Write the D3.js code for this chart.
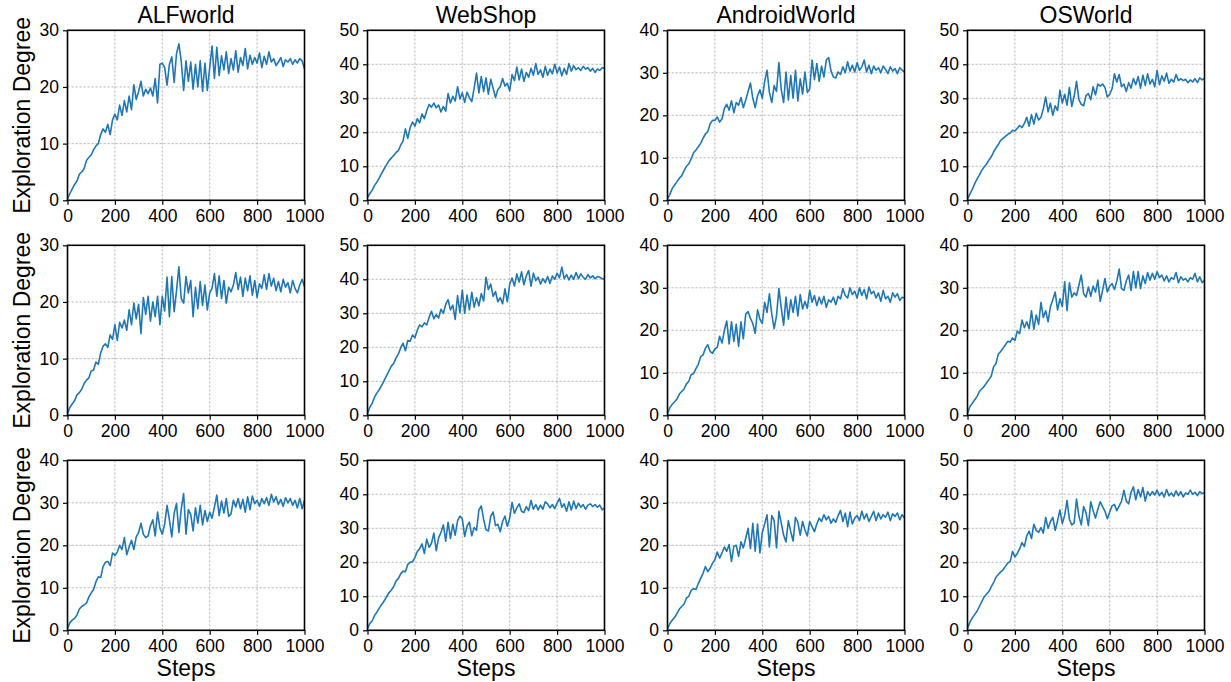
<!DOCTYPE html>
<html>
<head>
<meta charset="utf-8">
<script src="https://cdn.jsdelivr.net/npm/d3@7"></script>
<style>
  body { margin: 0; background: #fff; }
  text { font-family: "Liberation Sans", Arial, sans-serif; fill: #000; }
</style>
</head>
<body>
<div id="chart"></div>
<script>
// environments (columns) and axis settings per row
var envNames = ["ALFworld", "WebShop", "AndroidWorld", "OSWorld"];
var xTicks = [0, 200, 400, 600, 800, 1000];
var yMax = [[30, 50, 40, 50], [30, 50, 40, 40], [40, 50, 40, 50]];
var steps = d3.range(0, 1001, 10);

// row 1
var alf1 = [0.3,1.2,2.0,2.8,3.4,4.6,5.0,5.6,7.0,7.6,
  8.0,8.9,9.6,10.0,11.6,12.6,12.0,13.4,11.6,14.2,
  15.2,14.2,16.8,15.0,17.6,15.6,18.4,16.0,20.4,17.8,
  19.2,21.0,18.4,19.6,18.8,19.8,18.4,21.5,17.2,24.0,
  24.2,23.4,20.3,24.0,25.3,20.8,25.9,27.6,24.5,19.4,
  24.6,21.0,24.4,19.6,24.0,20.0,24.6,19.2,24.2,19.4,
  23.4,27.2,21.5,27.0,22.0,25.5,23.0,26.2,22.4,25.0,
  23.0,26.4,22.6,25.2,23.8,26.8,23.2,25.6,24.0,25.2,
  24.2,26.0,23.4,25.4,24.0,26.2,24.4,25.0,23.8,24.4,
  25.2,23.6,24.8,24.4,25.0,24.0,24.8,24.2,25.0,24.6,
  23.2];
var web1 = [0.8,2.0,3.0,4.4,5.4,6.6,8.0,9.2,10.4,11.6,
  12.4,13.2,14.0,14.6,16.2,17.4,21.0,18.2,21.4,23.0,
  21.8,24.0,22.8,25.4,24.0,26.4,28.2,27.4,28.6,27.2,
  28.0,26.0,27.6,26.2,31.4,28.6,30.6,29.2,33.4,29.8,
  31.6,28.8,31.8,30.2,29.0,33.0,37.4,31.6,36.4,32.0,
  36.0,31.2,35.6,33.0,30.2,32.6,33.4,35.8,33.6,34.4,
  32.2,37.0,35.2,39.2,35.4,38.6,35.0,37.6,36.2,38.8,
  36.8,40.2,37.0,38.4,36.2,39.4,36.8,38.6,37.2,40.0,
  37.4,39.2,36.6,38.8,37.0,40.2,38.0,39.6,38.4,39.0,
  38.2,39.4,38.6,39.0,38.0,38.8,37.6,38.6,38.2,39.0,
  38.8];
var and1 = [0.4,1.4,2.8,3.6,4.4,5.2,5.8,7.0,8.0,8.6,
  9.8,11.2,11.8,12.6,13.4,14.6,15.6,16.2,18.0,18.8,
  18.8,19.6,18.4,19.2,21.6,22.6,21.2,23.4,20.6,23.0,
  22.4,24.2,21.8,23.6,25.6,27.6,24.0,21.8,24.6,26.0,
  24.0,28.0,30.6,25.4,23.0,27.0,25.6,32.4,26.0,23.0,
  30.2,23.6,29.4,24.0,30.6,23.4,28.6,25.0,30.2,25.4,
  26.2,33.0,28.4,32.2,28.0,31.6,29.0,33.0,33.6,30.4,
  29.0,28.8,30.2,29.6,31.4,30.0,32.6,30.4,31.8,30.2,
  32.4,30.6,31.4,33.0,30.2,31.8,29.8,31.6,30.6,31.2,
  30.0,31.6,30.8,29.8,31.4,30.4,31.0,29.8,31.2,30.6,
  30.2];
var os1 = [0.4,1.8,3.2,4.8,6.2,7.4,8.8,9.8,10.6,11.8,
  12.8,14.2,15.4,16.4,17.6,18.2,18.8,19.4,19.8,20.6,
  20.4,21.2,22.0,21.4,22.6,24.4,21.8,25.2,22.4,25.6,
  23.6,24.4,27.0,30.4,26.0,28.6,25.0,27.8,26.4,32.4,
  28.6,31.2,28.0,33.2,27.6,30.6,35.0,29.6,28.2,27.8,
  30.8,31.4,29.6,33.4,31.0,34.2,33.6,34.2,33.2,30.4,
  31.2,32.8,37.2,34.8,37.0,33.4,34.2,32.0,34.6,33.0,
  35.8,34.0,36.4,33.0,36.8,33.8,37.2,34.2,35.6,33.4,
  38.2,34.0,36.6,35.0,37.4,34.4,35.6,34.8,37.0,35.2,
  35.8,35.2,35.6,34.6,35.4,34.8,35.8,34.6,36.0,35.4,
  35.9];

// row 2
var alf2 = [0.3,1.4,2.0,2.6,3.6,4.0,4.6,5.6,6.2,6.6,
  7.8,8.0,9.4,9.0,11.0,12.2,12.6,12.0,14.2,13.4,
  16.0,13.2,16.4,15.4,16.8,15.0,18.6,16.0,19.8,17.0,
  19.6,14.4,20.8,17.8,21.0,16.6,20.0,17.4,21.0,16.0,
  21.0,18.4,24.4,17.4,24.5,18.3,22.0,26.2,20.6,19.8,
  24.5,21.6,23.8,17.4,22.6,18.8,23.6,19.4,23.0,18.6,
  21.6,22.4,25.0,21.0,24.6,20.6,23.8,19.8,22.6,21.8,
  23.0,25.2,22.2,24.4,21.0,24.2,22.0,24.6,21.2,23.8,
  20.8,23.2,22.4,24.8,22.2,25.0,22.8,24.2,22.0,23.6,
  21.8,24.0,22.6,23.4,21.6,23.8,22.4,21.6,23.0,24.0,
  22.7];
var web2 = [0.5,2.4,3.6,5.4,6.6,7.6,8.8,10.2,11.6,13.0,
  14.4,15.2,16.8,18.0,19.8,21.2,19.0,22.0,21.8,23.6,
  22.8,25.0,26.6,26.0,27.2,26.6,28.8,30.6,28.4,29.6,
  28.6,31.2,30.0,32.6,34.0,31.0,32.4,28.2,35.2,30.2,
  36.8,30.0,35.4,31.0,36.2,31.8,34.6,32.2,35.8,33.6,
  40.6,37.0,38.6,35.0,36.4,33.4,34.6,32.8,37.2,33.4,
  38.6,40.4,38.0,41.6,39.2,42.2,38.4,41.0,42.6,38.0,
  41.8,39.6,40.6,38.6,40.2,39.0,40.8,38.8,41.0,40.0,
  41.8,40.4,43.6,40.2,41.4,39.8,41.2,40.0,42.0,40.2,
  41.6,40.6,40.0,41.4,40.4,41.0,40.2,40.8,40.6,40.2,
  40.0];
var and2 = [0.4,1.8,2.6,3.2,3.8,5.0,5.6,6.2,7.4,8.0,
  9.6,9.8,11.0,12.0,13.8,14.2,15.8,16.6,15.0,14.6,
  15.6,16.0,18.6,17.0,20.0,22.2,16.8,22.0,17.4,21.4,
  16.2,22.0,18.0,23.8,24.4,22.8,21.6,19.3,24.8,22.6,
  21.6,26.6,24.2,28.6,23.8,20.4,23.4,29.8,25.2,21.2,
  27.8,22.6,27.2,24.2,28.0,23.4,28.4,25.0,26.8,25.2,
  29.4,26.6,28.2,25.8,27.8,26.2,28.0,25.4,27.2,26.6,
  27.8,26.0,28.0,27.4,29.8,28.2,27.6,30.0,28.4,29.2,
  27.6,30.0,28.2,29.6,27.4,30.2,28.6,29.2,27.6,28.8,
  26.8,29.4,27.4,28.0,26.6,28.8,27.8,28.6,27.0,27.8,
  27.6];
var os2 = [0.4,2.0,2.8,3.6,4.4,5.6,6.2,6.8,7.6,8.4,
  9.2,11.4,12.2,14.4,15.0,15.8,16.6,17.4,17.2,18.2,
  17.6,19.8,19.2,22.4,20.6,22.0,20.4,24.6,20.2,23.6,
  21.4,26.6,23.0,24.6,22.0,25.6,27.2,29.0,24.8,27.4,
  25.6,31.4,24.6,31.2,27.8,28.8,28.2,30.6,33.0,28.6,
  27.8,30.2,28.0,30.4,29.0,31.8,26.8,29.4,32.2,29.0,
  30.4,31.0,29.6,31.6,34.4,29.8,29.4,31.6,33.0,29.4,
  33.8,30.0,33.8,29.8,32.8,31.0,33.6,31.8,33.4,32.0,
  33.8,32.4,33.0,31.6,32.8,31.4,32.4,32.0,33.6,31.2,
  32.6,31.8,32.2,31.4,32.4,32.0,33.4,31.4,32.6,31.2,
  31.8];

// row 3
var alf3 = [0.4,1.8,2.4,2.8,3.6,5.0,5.6,6.0,6.4,7.8,
  8.8,9.6,11.4,12.6,12.4,15.0,16.0,16.2,15.2,18.2,
  17.6,18.4,20.0,19.0,21.8,17.8,19.6,21.2,19.0,22.0,
  23.0,25.2,22.6,21.8,22.2,24.6,26.0,22.2,27.8,24.0,
  22.6,25.0,29.4,26.0,22.0,27.6,29.8,23.0,28.6,32.2,
  22.6,28.4,27.2,23.4,28.8,25.2,29.4,24.8,28.2,25.6,
  27.8,26.4,29.0,31.8,27.0,30.4,27.6,31.0,26.8,27.4,
  30.6,29.0,31.0,28.6,30.8,27.8,31.4,28.4,31.6,29.8,
  30.6,29.2,31.0,29.8,31.2,29.4,32.0,30.2,31.4,29.6,
  30.8,29.2,31.2,30.0,31.0,29.4,30.6,28.8,31.0,28.6,
  30.6];
var web3 = [0.5,2.0,2.8,4.4,5.4,6.6,7.6,8.6,9.8,11.0,
  11.8,12.8,14.4,15.2,16.6,17.4,17.2,19.4,20.0,20.2,
  21.4,23.2,24.0,25.4,22.6,26.8,24.4,25.6,28.6,23.4,
  27.2,28.8,31.0,26.2,31.8,27.0,31.2,28.0,32.2,33.6,
  32.8,27.6,30.6,31.8,27.8,30.2,29.4,35.4,36.6,32.6,
  29.6,29.2,33.6,34.8,30.8,31.2,29.0,32.0,33.6,30.6,
  33.0,37.6,34.4,36.0,37.2,35.0,34.6,36.4,35.2,38.2,
  35.6,37.0,35.4,36.8,35.6,37.8,37.2,36.0,37.0,35.8,
  37.4,38.8,36.2,37.2,35.0,37.8,35.4,38.0,35.8,37.4,
  36.2,37.0,35.6,36.8,37.2,36.4,37.0,36.2,36.8,35.4,
  36.0];
var and3 = [0.4,1.6,2.4,3.0,4.0,5.0,5.6,6.2,7.6,8.0,
  9.4,9.8,9.6,11.0,12.2,13.4,15.0,13.8,14.6,15.8,
  16.6,18.4,17.0,18.2,19.6,18.6,20.2,16.2,19.8,20.0,
  17.4,20.8,19.4,21.6,24.0,19.2,25.2,18.6,25.0,18.2,
  23.0,25.0,27.2,19.6,27.0,25.8,19.4,28.0,25.2,22.4,
  20.8,25.8,23.2,21.0,26.6,25.4,22.4,25.6,23.6,22.2,
  25.6,24.4,23.2,25.0,26.4,25.6,27.2,26.0,26.8,25.2,
  26.2,25.4,27.0,28.2,25.6,27.6,24.4,27.8,25.0,26.4,
  27.0,25.8,28.0,26.2,27.4,25.6,26.8,28.0,25.8,27.6,
  26.2,27.2,26.6,27.8,25.8,27.4,26.8,27.6,26.0,27.2,
  26.4];
var os3 = [0.5,2.4,3.6,4.6,5.6,7.0,8.4,9.8,10.6,11.4,
  12.8,14.0,15.6,16.4,17.2,17.8,18.8,19.8,20.2,23.2,
  21.6,22.6,24.0,25.8,24.6,27.8,29.2,27.0,31.2,29.4,
  28.8,30.2,28.6,33.2,30.0,32.0,33.2,29.4,32.2,35.4,
  31.4,33.8,38.2,32.6,31.0,31.6,38.6,33.6,31.0,36.4,
  34.6,30.8,37.8,35.2,33.0,35.6,37.8,36.4,35.0,32.8,
  34.8,36.6,37.0,35.2,36.6,38.0,41.2,38.0,37.2,40.6,
  42.2,38.4,41.4,39.2,42.0,38.0,40.8,39.6,40.8,39.8,
  41.2,39.6,40.6,39.2,41.4,39.6,40.4,39.4,41.0,39.6,
  40.8,39.2,40.4,40.0,41.2,40.0,40.6,39.6,40.8,40.2,
  40.5];

var series = [[alf1, web1, and1, os1], [alf2, web2, and2, os2], [alf3, web3, and3, os3]];

// layout
var W = 1231, H = 682;
var left = 67.5, top0 = 30.3, pw = 237, ph = 170, gapX = 300, gapY = 215;
var lineColor = "#1f77b4";

var svg = d3.select("#chart")
  .append("svg")
    .attr("width", W)
    .attr("height", H);

var x = d3.scaleLinear().domain([0, 1000]).range([0, pw]);

series.forEach(function(row, r) {
  row.forEach(function(vals, c) {
    var y = d3.scaleLinear().domain([0, yMax[r][c]]).range([ph, 0]);
    var yTicks = d3.range(0, yMax[r][c] + 1, 10);

    var g = svg.append("g")
      .attr("transform", "translate(" + (left + c * gapX) + "," + (top0 + r * gapY) + ")");

    // grid
    g.selectAll(".gx")
      .data(xTicks.slice(1, -1))
      .enter().append("line")
        .attr("x1", function(d) { return x(d); })
        .attr("x2", function(d) { return x(d); })
        .attr("y1", 0).attr("y2", ph)
        .style("stroke", "#9a9a9a")
        .style("stroke-width", 0.7)
        .style("stroke-dasharray", "2.2,1.8");
    g.selectAll(".gy")
      .data(yTicks.slice(1, -1))
      .enter().append("line")
        .attr("y1", function(d) { return y(d); })
        .attr("y2", function(d) { return y(d); })
        .attr("x1", 0).attr("x2", pw)
        .style("stroke", "#9a9a9a")
        .style("stroke-width", 0.7)
        .style("stroke-dasharray", "2.2,1.8");

    // line
    var line = d3.line()
      .x(function(d, i) { return x(steps[i]); })
      .y(function(d) { return y(d); });
    g.append("path")
      .datum(vals)
      .attr("d", line)
      .style("fill", "none")
      .style("stroke", lineColor)
      .style("stroke-width", 1.6)
      .style("stroke-linejoin", "round");

    // axes
    var ax = g.append("g")
      .attr("transform", "translate(0," + ph + ")")
      .call(d3.axisBottom(x).tickValues(xTicks).tickSize(4.5).tickPadding(4.5).tickFormat(d3.format("d")));
    var ay = g.append("g")
      .call(d3.axisLeft(y).tickValues(yTicks).tickSize(4.5).tickPadding(4).tickFormat(d3.format("d")));
    [ax, ay].forEach(function(a) {
      a.select(".domain").remove();
      a.selectAll("line").style("stroke", "#000").style("stroke-width", 1.2);
      a.selectAll("text").style("font-size", "17.5px").style("font-family", "'Liberation Sans', Arial, sans-serif");
    });

    // frame
    g.append("rect")
      .attr("width", pw).attr("height", ph)
      .style("fill", "none")
      .style("stroke", "#000")
      .style("stroke-width", 1.6);

    if (r == 0) {
      g.append("text")
        .attr("x", pw / 2).attr("y", -7)
        .attr("text-anchor", "middle")
        .style("font-size", "23px")
        .text(envNames[c]);
    }
    if (c == 0) {
      g.append("text")
        .attr("transform", "translate(" + (30 - left) + "," + (ph / 2) + ") rotate(-90)")
        .attr("text-anchor", "middle")
        .style("font-size", "23px")
        .text("Exploration Degree");
    }
    if (r == 2) {
      g.append("text")
        .attr("x", pw / 2).attr("y", 676 - (top0 + r * gapY))
        .attr("text-anchor", "middle")
        .style("font-size", "23px")
        .text("Steps");
    }
  });
});
</script>
</body>
</html>
